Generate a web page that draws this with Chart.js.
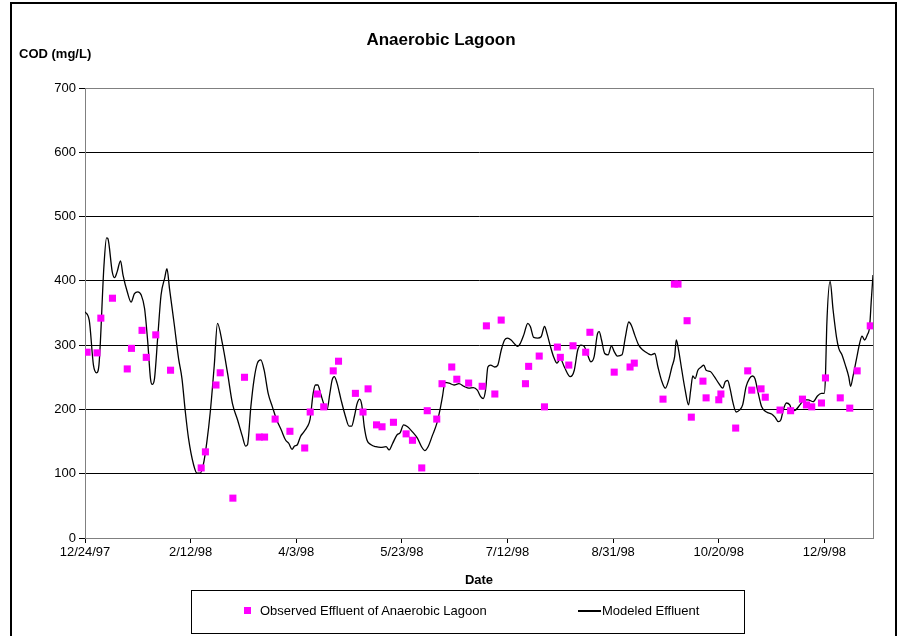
<!DOCTYPE html>
<html><head><meta charset="utf-8">
<script src="https://cdn.jsdelivr.net/npm/chart.js@4.4.0/dist/chart.umd.min.js"></script>
<style>
html,body{margin:0;padding:0;background:#fff;}
#wrap{position:relative;width:906px;height:636px;overflow:hidden;font-family:"Liberation Sans",Arial,sans-serif;color:#000;}
#frame{position:absolute;left:10px;top:2px;width:883px;height:700px;border:2px solid #000;border-bottom:none;}
canvas{position:absolute;left:0;top:0;}
.t{position:absolute;white-space:nowrap;}
#title{left:0;width:882px;top:30px;text-align:center;font-size:17px;font-weight:bold;line-height:20px;}
#ylab{left:19px;top:46px;font-size:13px;font-weight:bold;line-height:16px;}
#xlab{left:379px;width:200px;top:572px;text-align:center;font-size:13px;font-weight:bold;line-height:16px;}
#legbox{position:absolute;left:191px;top:590px;width:552px;height:42px;border:1px solid #000;}
#sq{position:absolute;left:244px;top:607px;width:7px;height:7px;background:#FF00FF;}
#ln{position:absolute;left:578px;top:610px;width:23px;height:1.5px;background:#000;}
#lt1{left:260px;top:603px;font-size:13px;line-height:16px;}
#lt2{left:602px;top:603px;font-size:13px;line-height:16px;}
</style></head>
<body>
<div id="wrap">
<canvas id="c" width="906" height="636"></canvas>
<div id="frame"></div>
<div class="t" id="title">Anaerobic Lagoon</div>
<div class="t" id="ylab">COD (mg/L)</div>
<div class="t" id="xlab">Date</div>
<div id="legbox"></div>
<div id="sq"></div>
<div class="t" id="lt1">Observed Effluent of Anaerobic Lagoon</div>
<div id="ln"></div>
<div class="t" id="lt2">Modeled Effluent</div>
</div>
<script>
// Days since 12/24/97
const tickDays = [0, 50, 100, 150, 200, 250, 300, 350];
const tickLabels = ["12/24/97", "2/12/98", "4/3/98", "5/23/98", "7/12/98", "8/31/98", "10/20/98", "12/9/98"];

const obsDays = [1, 5.7, 7.5, 13, 20, 22, 27, 29, 33.5, 40.5, 55, 57, 62, 64, 70, 75.5, 82.5, 85, 90, 97,
  104, 106.6, 110, 113, 117.5, 120, 128, 131.6, 134, 138, 140.6, 146, 152, 155, 159.4, 162, 166.5, 169, 173.6, 176,
  181.6, 188, 190, 194, 197, 208.5, 210, 215, 217.5, 223.6, 225, 229, 231, 237, 239, 250.5, 258, 260, 273.6, 279,
  280.7, 285, 287, 292.5, 294, 300, 301, 308, 313.7, 315.6, 320, 322, 329, 334, 339.6, 341.5, 344, 348.6, 350.5, 357.5,
  362, 365.5, 371.7];
const obsValues = [289, 288, 342, 373, 263, 295, 323, 281, 316, 261, 109, 134, 238, 257, 62, 250, 157, 157, 185, 166,
  140, 196, 224, 204, 260, 275, 225, 196, 232, 176, 173, 180, 162, 152, 109, 198, 185, 240, 266, 247,
  241, 236, 330, 224, 339, 240, 267, 283, 204, 297, 281, 269, 299, 289, 320, 258, 266, 272, 216, 395,
  395, 338, 188, 244, 218, 215, 224, 171, 260, 230, 232, 219, 199, 198, 216, 207, 204, 210, 249, 218,
  202, 260, 330];

const modelDays = [0, 2, 4, 5.5, 6.6, 9, 10.2, 10.8, 12.9, 14, 15.2, 16.8, 18, 20, 21.8, 23.4, 25, 26.6, 28.2, 29.7,
  31, 31.8, 32.9, 34.4, 36, 37.7, 38.8, 40, 42.3, 44.3, 45.9, 47.5, 49, 51.4, 53, 54.6, 56, 57.7, 59.3, 61.2,
  62.7, 65, 67.5, 69.8, 72.2, 74.5, 76, 76.9, 78.5, 80, 81.6, 83.2, 84.8, 86.7, 88.7, 90.7, 92.9, 95, 96.5, 98,
  99.2, 100.5, 102, 103.6, 105.2, 106.5, 108, 109.1, 110.2, 111.5, 113, 114.6, 115.9, 117, 118, 119.3, 121.2, 123.3, 125, 126.2,
  127.5, 128.8, 130, 131, 132.2, 133.5, 135.4, 137.7, 140, 142.5, 144, 145.6, 147.6, 149.2, 150.8, 152.7, 155, 157.4, 159.3, 160.8,
  162.4, 164.5, 166.5, 168, 169.2, 170.4, 172.3, 174.7, 177, 179.4, 181.7, 183.8, 185.7, 187.3, 188.5, 189.6, 190.7, 192, 193.9, 195.4,
  197, 198.6, 200, 201.7, 203.6, 204.9, 206.1, 207.7, 209.6, 210.8, 212.4, 214.3, 215.9, 217.5, 218.7, 220.3, 221.8, 223.4, 225, 226.9,
  229.7, 231.6, 233.2, 234.8, 236.3, 237.9, 239.5, 241, 242.6, 243.4, 244.5, 246, 247.6, 249.2, 250.5, 252, 254.2, 255.8, 257.4, 258.6,
  260.2, 262.1, 264.2, 266.5, 268, 269.7, 271.2, 272.8, 274.7, 276.3, 277.8, 279.1, 279.9, 281, 282.5, 284.1, 285.7, 286.7, 287.7, 288.8,
  290.1, 291.7, 292.9, 294, 296, 297.9, 299.9, 301.9, 303, 304.2, 305.5, 306.6, 308.2, 309.8, 311.3, 312.9, 314.5, 316, 317.1, 318.7,
  320.3, 322.6, 325, 326.6, 328.2, 329.4, 330.5, 332, 333.6, 334.7, 336.3, 338.4, 340.4, 342.3, 344.7, 346.7, 348.6, 349.9, 350.5, 351.1,
  352.7, 354.1, 355.7, 356.8, 358.3, 359.9, 361.5, 362.4, 363.5, 365.1, 366.7, 367.8, 369, 370.3, 371.4, 372.2, 373];
const modelValues = [352, 339, 269, 257, 269, 425, 467, 466, 414, 405, 414, 431, 409, 383, 367, 380, 383, 378, 357, 305,
  248, 239, 248, 311, 378, 404, 419, 388, 331, 279, 248, 196, 155, 114, 101, 101, 114, 150, 196, 269,
  334, 303, 256, 209, 184, 158, 143, 145, 204, 246, 272, 277, 261, 225, 204, 184, 168, 152, 147, 138,
  143, 145, 158, 165, 173, 184, 225, 238, 238, 225, 209, 200, 225, 246, 251, 241, 215, 189, 174, 174,
  189, 209, 216, 207, 173, 152, 145, 142, 141, 142, 137, 147, 160, 164, 176, 173, 165, 155, 142, 136,
  142, 160, 178, 199, 220, 242, 241, 238, 240, 236, 233, 234, 230, 220, 217, 230, 266, 269, 266, 269,
  292, 308, 311, 308, 301, 298, 303, 316, 334, 329, 312, 311, 313, 329, 318, 298, 282, 272, 279, 266,
  251, 261, 292, 300, 298, 285, 274, 282, 318, 321, 308, 287, 285, 299, 290, 283, 285, 313, 336, 331,
  316, 300, 292, 287, 285, 287, 266, 246, 233, 246, 266, 282, 308, 292, 261, 230, 207, 230, 252, 248,
  261, 266, 269, 261, 259, 251, 241, 233, 243, 245, 230, 212, 196, 199, 207, 235, 248, 252, 248, 225,
  204, 196, 193, 188, 181, 184, 199, 210, 207, 198, 199, 207, 215, 215, 212, 221, 225, 225, 251, 329,
  399, 355, 313, 295, 285, 269, 251, 236, 251, 277, 303, 314, 308, 316, 329, 370, 409];

const FAMILY = '"Liberation Sans", Arial, sans-serif';

const framePlugin = {
  id: 'frame',
  beforeDatasetsDraw(chart) {
    const a = chart.chartArea, ctx = chart.ctx;
    ctx.save();
    ctx.strokeStyle = '#808080';
    ctx.lineWidth = 1;
    ctx.strokeRect(Math.round(a.left) + 0.5, Math.round(a.top) + 0.5, Math.round(a.right - a.left), Math.round(a.bottom - a.top));
    ctx.restore();
  }
};

new Chart(document.getElementById('c'), {
  type: 'scatter',
  data: {
    datasets: [
      {
        label: 'Observed Effluent of Anaerobic Lagoon',
        data: obsDays.map((d, i) => ({ x: d, y: obsValues[i] })),
        pointStyle: 'rect',
        pointRadius: 5,
        pointHoverRadius: 5,
        backgroundColor: '#FF00FF',
        borderWidth: 0,
        showLine: false
      },
      {
        label: 'Modeled Effluent',
        data: modelDays.map((d, i) => ({ x: d, y: modelValues[i] })),
        showLine: true,
        pointRadius: 0,
        borderColor: '#000',
        backgroundColor: '#000',
        borderWidth: 1.3,
        cubicInterpolationMode: 'monotone',
        fill: false
      }
    ]
  },
  options: {
    responsive: false,
    animation: false,
    devicePixelRatio: 1,
    layout: { padding: { left: 0, right: 33, top: 88, bottom: 68 } },
    plugins: { legend: { display: false }, title: { display: false }, tooltip: { enabled: false } },
    scales: {
      x: {
        type: 'linear', min: 0, max: 373,
        afterBuildTicks: s => { s.ticks = tickDays.map(v => ({ value: v })); },
        afterFit: s => { s.height = 30; },
        ticks: {
          autoSkip: false, maxRotation: 0, minRotation: 0,
          callback: (v, i) => tickLabels[i],
          font: { size: 13, family: FAMILY }, color: '#000', padding: 2
        },
        grid: { display: true, drawOnChartArea: false, drawTicks: true, tickLength: 5, color: '#000' },
        border: { display: true, color: '#000', width: 1 }
      },
      y: {
        min: 0, max: 700,
        afterFit: s => { s.width = 85; },
        ticks: { stepSize: 100, font: { size: 13, family: FAMILY }, color: '#000', padding: 3 },
        grid: { color: '#000', lineWidth: 1, tickLength: 6, drawTicks: true },
        border: { display: true, color: '#404040', width: 1 }
      }
    }
  },
  plugins: [framePlugin]
});
</script>
</body></html>
